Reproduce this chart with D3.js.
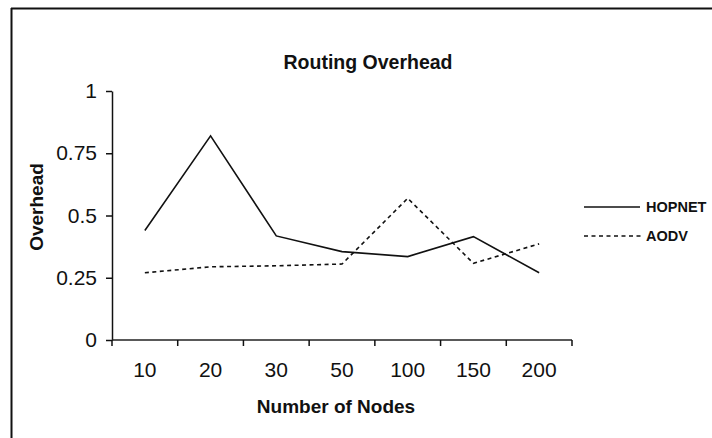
<!DOCTYPE html>
<html>
<head>
<meta charset="utf-8">
<script src="https://cdn.jsdelivr.net/npm/d3@7"></script>
<style>
  body { margin: 0; background: #fff; }
  svg { display: block; font-family: "Liberation Sans", Arial, sans-serif; }
  .num { font-family: "Liberation Sans Narrow", "Arial Narrow", "Liberation Sans", sans-serif; }
</style>
</head>
<body>
<svg id="chart" width="712" height="438"></svg>
<script>
const nodes = ['10', '20', '30', '50', '100', '150', '200'];
const hopnet = [0.44, 0.82, 0.418, 0.355, 0.335, 0.415, 0.27];
const aodv = [0.27, 0.294, 0.298, 0.305, 0.569, 0.308, 0.386];
const yTicks = [0, 0.25, 0.5, 0.75, 1];

const svg = d3.select('#chart');

// page frame
svg.append('line').attr('x1', 11).attr('x2', 712).attr('y1', 8.5).attr('y2', 8.5)
  .attr('stroke', '#111').attr('stroke-width', 2);
svg.append('line').attr('x1', 11.5).attr('x2', 11.5).attr('y1', 8).attr('y2', 438)
  .attr('stroke', '#111').attr('stroke-width', 2);

const plotLeft = 112, plotRight = 572, plotTop = 91, plotBottom = 340;

const x = d3.scaleBand().domain(nodes).range([plotLeft, plotRight]);
const y = d3.scaleLinear().domain([0, 1]).range([plotBottom, plotTop]);

// y axis
const yAxis = svg.append('g')
  .attr('transform', `translate(${plotLeft},0)`)
  .call(d3.axisLeft(y).tickValues(yTicks).tickSize(6).tickSizeOuter(0).tickPadding(9)
    .tickFormat(d => d3.format('')(d)));
yAxis.select('.domain').attr('stroke', '#111').attr('stroke-width', 1.5);
yAxis.selectAll('.tick line').attr('stroke', '#111').attr('stroke-width', 1.5);
yAxis.selectAll('.tick text').attr('class', 'num').attr('font-size', 21).attr('fill', '#111')
  .attr('font-family', null);

// x axis: ticks on the band edges
const edges = nodes.map(d => x(d)).concat([plotRight]);
svg.append('line').attr('x1', plotLeft).attr('x2', plotRight).attr('y1', plotBottom).attr('y2', plotBottom)
  .attr('stroke', '#222').attr('stroke-width', 1.5);
svg.append('g').selectAll('line').data(edges).join('line')
  .attr('x1', d => d).attr('x2', d => d)
  .attr('y1', plotBottom).attr('y2', plotBottom + 6)
  .attr('stroke', '#111').attr('stroke-width', 1.5);
svg.append('g').selectAll('text').data(nodes).join('text')
  .attr('class', 'num')
  .attr('x', d => x(d) + x.bandwidth() / 2)
  .attr('y', 377)
  .attr('text-anchor', 'middle')
  .attr('font-size', 21)
  .attr('fill', '#111')
  .text(d => d);

// series
const line = d3.line()
  .x((d, i) => x(nodes[i]) + x.bandwidth() / 2)
  .y(d => y(d));

svg.append('path').datum(hopnet)
  .attr('d', line).attr('fill', 'none')
  .attr('stroke', '#111').attr('stroke-width', 1.6);
svg.append('path').datum(aodv)
  .attr('d', line).attr('fill', 'none')
  .attr('stroke', '#111').attr('stroke-width', 1.6)
  .attr('stroke-dasharray', '4,3.5');

// titles
svg.append('text').attr('x', 368).attr('y', 69)
  .attr('text-anchor', 'middle').attr('font-size', 19.5).attr('font-weight', 'bold')
  .attr('fill', '#111').text('Routing Overhead');
svg.append('text').attr('x', 336).attr('y', 413)
  .attr('text-anchor', 'middle').attr('font-size', 19).attr('font-weight', 'bold')
  .attr('fill', '#111').text('Number of Nodes');
svg.append('text').attr('transform', 'translate(42.5,207) rotate(-90)')
  .attr('text-anchor', 'middle').attr('font-size', 19).attr('font-weight', 'bold')
  .attr('fill', '#111').text('Overhead');

// legend
const legend = [
  { name: 'HOPNET', y: 207, dash: null },
  { name: 'AODV', y: 236, dash: '4,3.5' }
];
const lg = svg.append('g').selectAll('g').data(legend).join('g');
lg.append('line')
  .attr('x1', 584).attr('x2', d => d.dash ? 643 : 640)
  .attr('y1', d => d.y).attr('y2', d => d.y)
  .attr('stroke', '#111').attr('stroke-width', 1.6)
  .attr('stroke-dasharray', d => d.dash);
lg.append('text')
  .attr('x', 646).attr('y', d => d.y + 5.3)
  .attr('font-size', 14.5).attr('font-weight', 'bold').attr('fill', '#111')
  .text(d => d.name);
</script>
</body>
</html>
